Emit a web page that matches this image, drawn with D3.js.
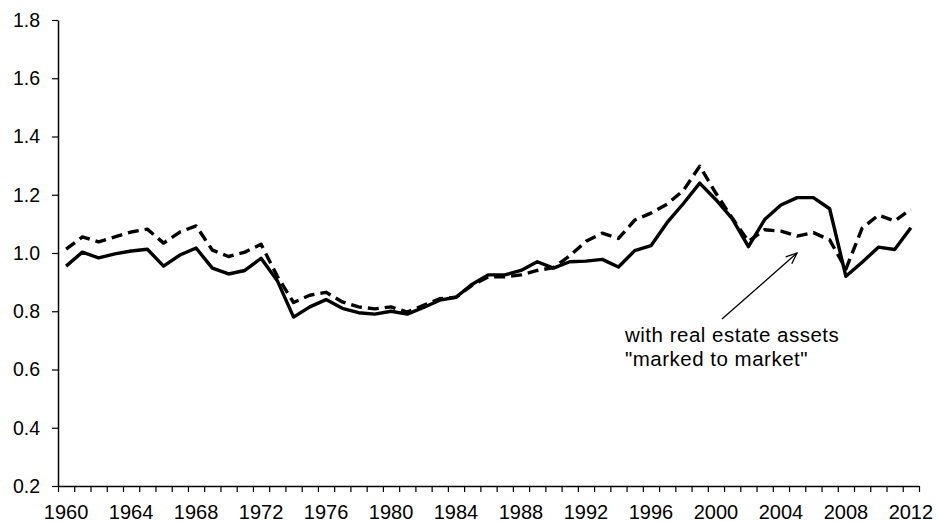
<!DOCTYPE html>
<html>
<head>
<meta charset="utf-8">
<script src="https://cdn.jsdelivr.net/npm/d3@7"></script>
<style>
  body { margin: 0; background: #fff; }
  svg { display: block; font-family: "Liberation Sans", Arial, sans-serif; }
</style>
</head>
<body>
<svg id="chart" width="937" height="522"></svg>
<script>
const years = d3.range(1960, 2013);
const solidValues = [
  0.955, 1.003, 0.983, 0.997, 1.007, 1.013, 0.955, 0.993, 1.017, 0.948,
  0.928, 0.94, 0.982, 0.905, 0.78, 0.815, 0.84, 0.81, 0.795, 0.79,
  0.80, 0.79, 0.813, 0.838, 0.848, 0.893, 0.925, 0.925, 0.94, 0.97,
  0.948, 0.97, 0.972, 0.978, 0.952, 1.008, 1.025, 1.105, 1.17, 1.24,
  1.183, 1.118, 1.022, 1.115, 1.165, 1.19, 1.19, 1.152, 0.92, 0.968,
  1.02, 1.012, 1.087
];
const dashedValues = [
  1.013, 1.055, 1.038, 1.055, 1.072, 1.082, 1.034, 1.072, 1.093, 1.01,
  0.988, 1.003, 1.03, 0.92, 0.83, 0.855, 0.865, 0.832, 0.815, 0.808,
  0.815, 0.797, 0.82, 0.843, 0.848, 0.89, 0.918, 0.918, 0.925, 0.94,
  0.95, 0.99, 1.04, 1.068, 1.05, 1.113, 1.137, 1.168, 1.215, 1.298,
  1.205, 1.12, 1.04, 1.08, 1.075, 1.058, 1.07, 1.045, 0.945, 1.085,
  1.13, 1.11, 1.15
];
const yTicks = [0.2, 0.4, 0.6, 0.8, 1.0, 1.2, 1.4, 1.6, 1.8];
const xLabelYears = [1960, 1964, 1968, 1972, 1976, 1980, 1984, 1988, 1992, 1996, 2000, 2004, 2008, 2012];
const annotationLines = ["with real estate assets", "\"marked to market\""];

(function () {
const svg = d3.select("#chart");
const mLeft = 58, mRight = 919, mTop = 20, mBottom = 486;

const x = d3.scaleLinear().domain([1960, 2013]).range([mLeft, mRight]);
const y = d3.scaleLinear().domain([0.2, 1.8]).range([mBottom, mTop]);

// Y axis
const yAxis = svg.append("g")
  .attr("transform", `translate(${mLeft},0)`)
  .call(d3.axisLeft(y).tickValues(yTicks).tickFormat(d3.format(".1f")).tickSize(6).tickSizeOuter(0).tickPadding(12));
yAxis.select(".domain").attr("stroke", "#000").attr("stroke-width", 1.5);
yAxis.selectAll(".tick line").attr("stroke", "#000").attr("stroke-width", 1.2);
yAxis.selectAll(".tick text").attr("font-size", 19.5).attr("fill", "#000")
  .attr("font-family", "Liberation Sans, Arial, sans-serif");

// X axis: ticks at category boundaries
const xAxis = svg.append("g")
  .attr("transform", `translate(0,${mBottom})`)
  .call(d3.axisBottom(x).tickValues(d3.range(1960, 2014)).tickFormat("").tickSize(6).tickSizeOuter(0));
xAxis.select(".domain").attr("stroke", "#000").attr("stroke-width", 1.5);
xAxis.selectAll(".tick line").attr("stroke", "#000").attr("stroke-width", 1.2);

svg.append("g").selectAll("text")
  .data(xLabelYears)
  .join("text")
  .attr("x", d => x(d + 0.5))
  .attr("y", mBottom + 33)
  .attr("text-anchor", "middle")
  .attr("font-size", 20)
  .attr("fill", "#000")
  .text(d => d);

// Lines
const line = d3.line()
  .x((d, i) => x(years[i] + 0.5))
  .y(d => y(d));

svg.append("path")
  .datum(dashedValues)
  .attr("fill", "none")
  .attr("stroke", "#000")
  .attr("stroke-width", 3.4)
  .attr("stroke-dasharray", "11,6")
  .attr("stroke-linejoin", "round")
  .attr("d", line);

svg.append("path")
  .datum(solidValues)
  .attr("fill", "none")
  .attr("stroke", "#000")
  .attr("stroke-width", 3.4)
  .attr("stroke-linejoin", "round")
  .attr("d", line);

// Annotation
const ann = svg.append("g");
ann.selectAll("text")
  .data(annotationLines)
  .join("text")
  .attr("x", 625)
  .attr("y", (d, i) => 342 + i * 24)
  .attr("font-size", 20.5)
  .attr("letter-spacing", 0.5)
  .attr("fill", "#000")
  .text(d => d);

const ax1 = 722, ay1 = 319, ax2 = 797, ay2 = 253;
ann.append("line")
  .attr("x1", ax1).attr("y1", ay1).attr("x2", ax2).attr("y2", ay2)
  .attr("stroke", "#000").attr("stroke-width", 1.3);
const ang = Math.atan2(ay2 - ay1, ax2 - ax1);
const hl = 12, ha = 0.4;
ann.append("path")
  .attr("d", `M${ax2 - hl * Math.cos(ang - ha)},${ay2 - hl * Math.sin(ang - ha)} L${ax2},${ay2} L${ax2 - hl * Math.cos(ang + ha)},${ay2 - hl * Math.sin(ang + ha)}`)
  .attr("fill", "none").attr("stroke", "#000").attr("stroke-width", 1.3);
})();
</script>
</body>
</html>
